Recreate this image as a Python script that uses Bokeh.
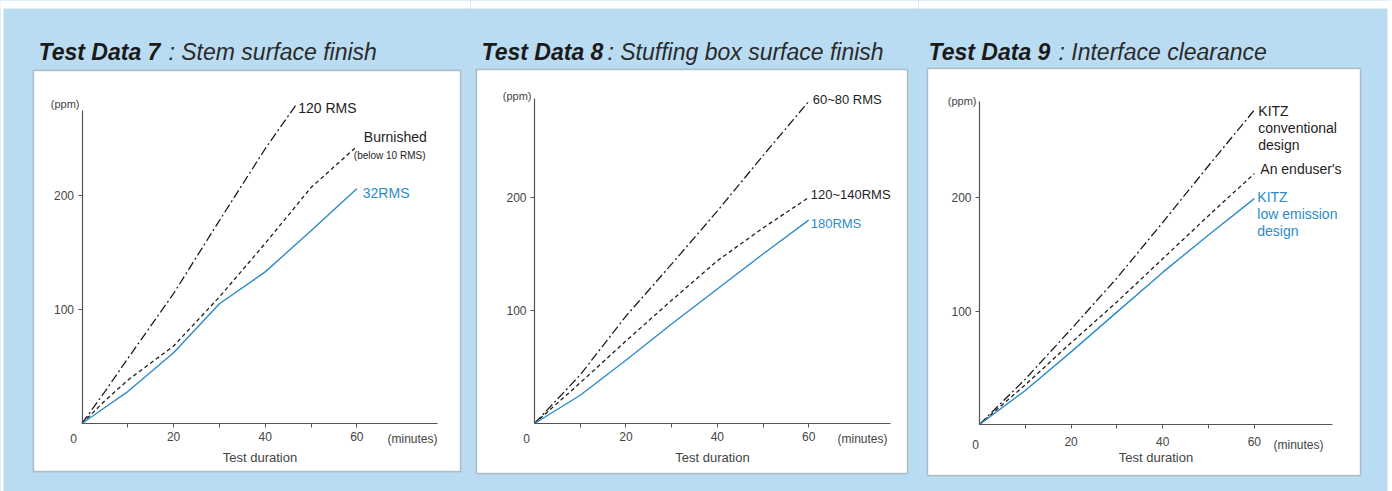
from bokeh.plotting import figure
from bokeh.models import LinearAxis, FixedTicker, Label, Range1d, BoxAnnotation
from bokeh.layouts import row
from bokeh.embed import file_html
from bokeh.resources import INLINE

# ---------------- data ----------------
# Test Data 7 : Stem surface finish
t7_x_120 = [0, 5, 10, 20, 30, 40, 47]
t7_rms120 = [0, 28, 57, 114, 178, 241, 281]
t7_x = [0, 5, 10, 20, 30, 40, 50, 60]
t7_burnished = [0, 20, 38, 68, 111, 158, 207, 243]
t7_rms32 = [0, 14, 28, 62, 105, 133, 169, 206]

# Test Data 8 : Stuffing box surface finish
t8_x = [0, 10, 20, 30, 40, 50, 60]
t8_rms60_80 = [0, 43, 95, 141, 188, 237, 285]
t8_rms120_140 = [0, 36, 73, 109, 144, 173, 200]
t8_rms180 = [0, 25, 56, 88, 119, 150, 180]

# Test Data 9 : Interface clearance
t9_x = [0, 10, 20, 30, 40, 50, 60]
t9_conventional = [0, 40, 84, 129, 178, 228, 277]
t9_enduser = [0, 35, 72, 108, 146, 184, 221]
t9_low_emission = [0, 30, 64, 99, 134, 167, 199]

x_major_ticks = [20, 40, 60]
x_minor_ticks = [10, 30, 50]
y_major_ticks = [100, 200]

# ---------------- style ----------------
BLUE_BG = "#badcf2"
LINE_BLUE = "#2b8cc8"
INK = "#1e1e1e"
AXIS = "#555555"
GREY_TXT = "#444444"
FONT = "Liberation Sans"
FIG_H = 491
DASHDOT = "9 3 2 3"
DASHED = "4 3"


class Panel:
    """Figure whose frame covers the whole canvas; px helpers give page layout."""

    def __init__(self, fig_left, fig_width, origin, scale, box, white_strips):
        self.x0, self.y0 = origin
        self.sx, self.sy = scale
        xr = ((fig_left - self.x0) / self.sx, (fig_left + fig_width - self.x0) / self.sx)
        yr = ((self.y0 - FIG_H) / self.sy, self.y0 / self.sy)
        p = figure(width=fig_width, height=FIG_H,
                   x_range=Range1d(*xr), y_range=Range1d(*yr),
                   x_axis_type=None, y_axis_type=None,
                   toolbar_location=None, output_backend="svg",
                   min_border=0, background_fill_color=BLUE_BG,
                   border_fill_color=BLUE_BG, outline_line_color=None)
        # white page margins around the light-blue card
        for (l, t, r, b) in white_strips:
            p.add_layout(BoxAnnotation(left=self.dx(l), right=self.dx(r),
                                       top=self.dy(t), bottom=self.dy(b),
                                       fill_color="white", fill_alpha=1.0,
                                       line_color=None, level="underlay",
                                       editable=False))
        # white framed chart box
        bl, bt, br, bb = box
        p.add_layout(BoxAnnotation(left=self.dx(bl), right=self.dx(br),
                                   top=self.dy(bt), bottom=self.dy(bb),
                                   fill_color="white", fill_alpha=1.0,
                                   line_color="#4a4a4a", line_width=1.5,
                                   level="underlay", editable=False))
        self.p = p

    def dx(self, px):
        return (px - self.x0) / self.sx

    def dy(self, py):
        return (self.y0 - py) / self.sy

    def axes(self, x_bound, y_bound, label_standoff, title_standoff):
        p = self.p
        xa = LinearAxis(fixed_location=0, bounds=(0, x_bound),
                        ticker=FixedTicker(ticks=x_major_ticks, minor_ticks=x_minor_ticks),
                        axis_label="Test duration")
        ya = LinearAxis(fixed_location=0, bounds=(0, y_bound),
                        ticker=FixedTicker(ticks=y_major_ticks, minor_ticks=[]))
        for ax in (xa, ya):
            ax.axis_line_color = AXIS
            ax.axis_line_width = 1.2
            ax.major_tick_line_color = AXIS
            ax.minor_tick_line_color = AXIS
            ax.major_tick_out = 4
            ax.major_tick_in = 0
            ax.minor_tick_out = 4
            ax.minor_tick_in = 0
            ax.major_label_text_font = FONT
            ax.major_label_text_font_size = "12px"
            ax.major_label_text_color = GREY_TXT
            ax.major_label_standoff = 4
        xa.major_label_standoff = label_standoff
        xa.axis_label_text_font = FONT
        xa.axis_label_text_font_size = "13px"
        xa.axis_label_text_font_style = "normal"
        xa.axis_label_text_color = GREY_TXT
        xa.axis_label_standoff = title_standoff
        p.add_layout(xa, "below")
        p.add_layout(ya, "left")

    def text(self, px, py, text, size, color=GREY_TXT, style="normal", align="left"):
        self.p.add_layout(Label(x=self.dx(px), y=self.dy(py), text=text,
                                text_font=FONT, text_font_size=size,
                                text_font_style=style, text_color=color,
                                text_align=align, text_baseline="middle"))

    def title(self, bold_px, rest_px, baseline_py, bold, rest):
        for px, txt, st, col in ((bold_px, bold, "bold italic", "#1a1a1a"),
                                 (rest_px, rest, "italic", "#2a2a2a")):
            self.p.add_layout(Label(x=self.dx(px), y=self.dy(baseline_py), text=txt,
                                    text_font=FONT, text_font_size="23px",
                                    text_font_style=st, text_color=col,
                                    text_align="left", text_baseline="alphabetic"))


def series_label(p, x, y, text, color, dx, dy, size="14px"):
    p.add_layout(Label(x=x, y=y, text=text, x_offset=dx, y_offset=dy,
                       text_font=FONT, text_font_size=size, text_color=color,
                       text_align="left", text_baseline="middle",
                       text_line_height=1.07))


# ---------- Panel 7 ----------
a = Panel(0, 470, (81.5, 423), (4.58, 1.14), (33, 70, 460, 471),
          [(-20, -20, 520, 8), (-20, -20, 3, 520)])
a.axes(77.6, 275, 4, 6)
a.title(38, 168, 51, "Test Data 7", ": Stem surface finish")
a.text(73, 438, "0", "12px", align="center")
a.text(437, 438, "(minutes)", "12px", align="right")
a.text(79, 103, "(ppm)", "11px", align="right")
p7 = a.p
p7.line(t7_x_120, t7_rms120, line_color=INK, line_width=1.3, line_dash=DASHDOT)
p7.line(t7_x, t7_burnished, line_color=INK, line_width=1.3, line_dash=DASHED)
p7.line(t7_x, t7_rms32, line_color=LINE_BLUE, line_width=1.4)
series_label(p7, t7_x_120[-1], t7_rms120[-1], "120 RMS", INK, 1, -5)
series_label(p7, t7_x[-1], t7_burnished[-1], "Burnished", INK, 7, 9)
series_label(p7, t7_x[-1], t7_burnished[-1], "(below 10 RMS)", INK, -3, -9, size="10px")
series_label(p7, t7_x[-1], t7_rms32[-1], "32RMS", LINE_BLUE, 6, -4)

# ---------- Panel 8 ----------
b = Panel(470, 448, (534, 423), (4.57, 1.13), (476, 69, 907, 473),
          [(400, -20, 1000, 8)])
b.axes(77.9, 288, 4, 6)
b.title(481, 607, 51, "Test Data 8", ": Stuffing box surface finish")
b.text(526, 438, "0", "12px", align="center")
b.text(887, 438, "(minutes)", "12px", align="right")
b.text(531, 95, "(ppm)", "11px", align="right")
p8 = b.p
p8.line(t8_x, t8_rms60_80, line_color=INK, line_width=1.3, line_dash=DASHDOT)
p8.line(t8_x, t8_rms120_140, line_color=INK, line_width=1.3, line_dash=DASHED)
p8.line(t8_x, t8_rms180, line_color=LINE_BLUE, line_width=1.4)
series_label(p8, t8_x[-1], t8_rms60_80[-1], "60~80 RMS", INK, 4, 2, size="13px")
series_label(p8, t8_x[-1], t8_rms120_140[-1], "120~140RMS", INK, 2, 3, size="13px")
series_label(p8, t8_x[-1], t8_rms180[-1], "180RMS", LINE_BLUE, 2, -3, size="13px")

# ---------- Panel 9 ----------
c = Panel(918, 474, (979, 424), (4.58, 1.135), (927, 68, 1360, 475),
          [(880, -20, 1450, 8), (1387, -20, 1450, 520)])
c.axes(77, 285, 8, 1)
c.title(928, 1058, 51, "Test Data 9", ": Interface clearance")
c.text(975, 444, "0", "12px", align="center")
c.text(1323, 444, "(minutes)", "12px", align="right")
c.text(976, 100, "(ppm)", "11px", align="right")
p9 = c.p
p9.line(t9_x, t9_conventional, line_color=INK, line_width=1.3, line_dash=DASHDOT)
p9.line(t9_x, t9_enduser, line_color=INK, line_width=1.3, line_dash=DASHED)
p9.line(t9_x, t9_low_emission, line_color=LINE_BLUE, line_width=1.4)
series_label(p9, t9_x[-1], t9_conventional[-1], "KITZ\nconventional\ndesign", INK, 4, -18)
series_label(p9, t9_x[-1], t9_enduser[-1], "An enduser's", INK, 6, 5)
series_label(p9, t9_x[-1], t9_low_emission[-1], "KITZ\nlow emission\ndesign", LINE_BLUE, 3, -15)

layout = row(p7, p8, p9, spacing=0, styles={"background-color": BLUE_BG})
open("out.html", "w").write(file_html(layout, INLINE))
